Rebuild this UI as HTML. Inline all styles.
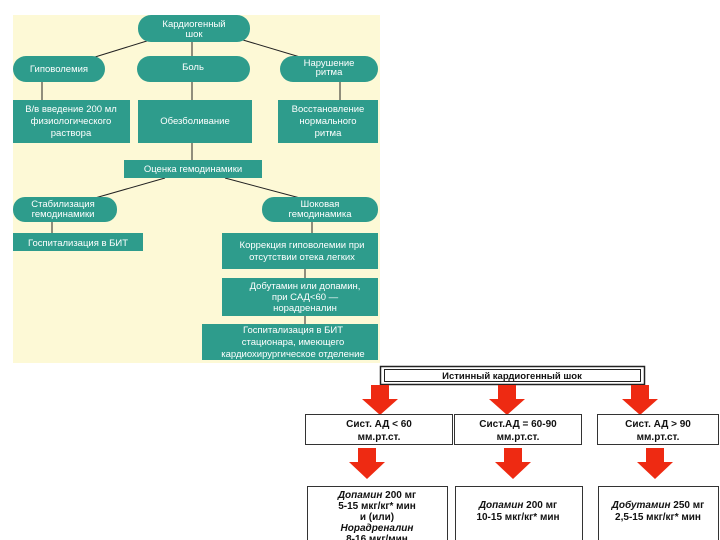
<!DOCTYPE html>
<html><head><meta charset="utf-8"><style>
body{margin:0;background:#fff;width:720px;height:540px;overflow:hidden}
svg{display:block}
text{font-family:"Liberation Sans","DejaVu Sans",sans-serif;}
.t{fill:#fff;font-size:9.5px;text-anchor:middle}
.b{fill:#111;font-size:10px;text-anchor:middle;font-weight:bold}
</style></head><body>
<svg width="720" height="540" viewBox="0 0 720 540">
<rect x="13" y="15" width="367" height="348" fill="#fdf9d6"/>
<g stroke="#222" stroke-width="1" fill="none">
<line x1="150" y1="40" x2="95" y2="57"/><line x1="192" y1="42" x2="192" y2="56"/><line x1="243" y1="40" x2="300" y2="57"/>
<line x1="42" y1="82" x2="42" y2="100"/><line x1="192" y1="82" x2="192" y2="100"/><line x1="340" y1="82" x2="340" y2="100"/>
<line x1="192" y1="143" x2="192" y2="160"/>
<line x1="165" y1="178" x2="95" y2="198"/><line x1="225" y1="178" x2="300" y2="198"/>
<line x1="52" y1="222" x2="52" y2="233"/><line x1="312" y1="222" x2="312" y2="233"/>
<line x1="305" y1="269" x2="305" y2="278"/><line x1="305" y1="316" x2="305" y2="324"/>
</g>
<g fill="#2e9c8c">
<rect x="138" y="15" width="112" height="27" rx="13"/>
<rect x="13" y="56" width="92" height="26" rx="13"/>
<rect x="137" y="56" width="113" height="26" rx="13"/>
<rect x="280" y="56" width="98" height="26" rx="13"/>
<rect x="13" y="100" width="117" height="43"/>
<rect x="138" y="100" width="114" height="43"/>
<rect x="278" y="100" width="100" height="43"/>
<rect x="124" y="160" width="138" height="18"/>
<rect x="13" y="197" width="104" height="25" rx="12"/>
<rect x="262" y="197" width="116" height="25" rx="12"/>
<rect x="13" y="233" width="130" height="18"/>
<rect x="222" y="233" width="156" height="36"/>
<rect x="222" y="278" width="156" height="38"/>
<rect x="202" y="324" width="176" height="36"/>
</g>
<g class="t">
<text x="194" y="27">Кардиогенный</text><text x="194" y="37">шок</text>
<text x="59" y="72">Гиповолемия</text>
<text x="193" y="70">Боль</text>
<text x="329" y="66">Нарушение</text><text x="329" y="75">ритма</text>
<text x="71" y="112">В/в введение 200 мл</text><text x="71" y="124">физиологического</text><text x="71" y="136">раствора</text>
<text x="195" y="124">Обезболивание</text>
<text x="328" y="112">Восстановление</text><text x="328" y="124">нормального</text><text x="328" y="136">ритма</text>
<text x="193" y="172">Оценка гемодинамики</text>
<text x="63" y="207">Стабилизация</text><text x="63" y="217">гемодинамики</text>
<text x="320" y="207">Шоковая</text><text x="320" y="217">гемодинамика</text>
<text x="78" y="246">Госпитализация в БИТ</text>
<text x="302" y="248">Коррекция гиповолемии при</text><text x="302" y="260">отсутствии отека легких</text>
<text x="305" y="289">Добутамин или допамин,</text><text x="305" y="300">при САД&lt;60 —</text><text x="305" y="311">норадреналин</text>
<text x="293" y="333">Госпитализация в БИТ</text><text x="293" y="345">стационара, имеющего</text><text x="293" y="357">кардиохирургическое отделение</text>
</g>
<rect x="380.5" y="366.5" width="264" height="18" fill="#fff" stroke="#222" stroke-width="1.5"/>
<rect x="384.5" y="369.5" width="256" height="12" fill="#fff" stroke="#222" stroke-width="1"/>
<text class="b" x="512" y="379" style="font-size:9.5px">Истинный  кардиогенный шок</text>
<g fill="#ee2a12">
<path d="M371 385h18v14h9l-18 16l-18-16h9z"/>
<path d="M498 385h18v14h9l-18 16l-18-16h9z"/>
<path d="M631 385h18v14h9l-18 16l-18-16h9z"/>
<path d="M358 448h18v14h9l-18 17l-18-17h9z"/>
<path d="M504 448h18v14h9l-18 17l-18-17h9z"/>
<path d="M646 448h18v14h9l-18 17l-18-17h9z"/>
</g>
<g fill="#fff" stroke="#333" stroke-width="1">
<rect x="305.5" y="414.5" width="147" height="30"/>
<rect x="454.5" y="414.5" width="127" height="30"/>
<rect x="597.5" y="414.5" width="121" height="30"/>
<rect x="307.5" y="486.5" width="140" height="56"/>
<rect x="455.5" y="486.5" width="127" height="56"/>
<rect x="598.5" y="486.5" width="120" height="56"/>
</g>
<g class="b">
<text x="379" y="427">Сист. АД &lt; 60</text><text x="379" y="440">мм.рт.ст.</text>
<text x="518" y="427">Сист.АД = 60-90</text><text x="518" y="440">мм.рт.ст.</text>
<text x="658" y="427">Сист. АД &gt; 90</text><text x="658" y="440">мм.рт.ст.</text>
<text x="377" y="498"><tspan font-style="italic">Допамин</tspan> 200 мг</text>
<text x="377" y="509">5-15 мкг/кг* мин</text>
<text x="377" y="520">и (или)</text>
<text x="377" y="531" font-style="italic">Норадреналин</text>
<text x="377" y="542">8-16 мкг/мин</text>
<text x="518" y="508"><tspan font-style="italic">Допамин</tspan> 200 мг</text>
<text x="518" y="520">10-15 мкг/кг* мин</text>
<text x="658" y="508"><tspan font-style="italic">Добутамин</tspan> 250 мг</text>
<text x="658" y="520">2,5-15 мкг/кг* мин</text>
</g>
</svg>
</body></html>
